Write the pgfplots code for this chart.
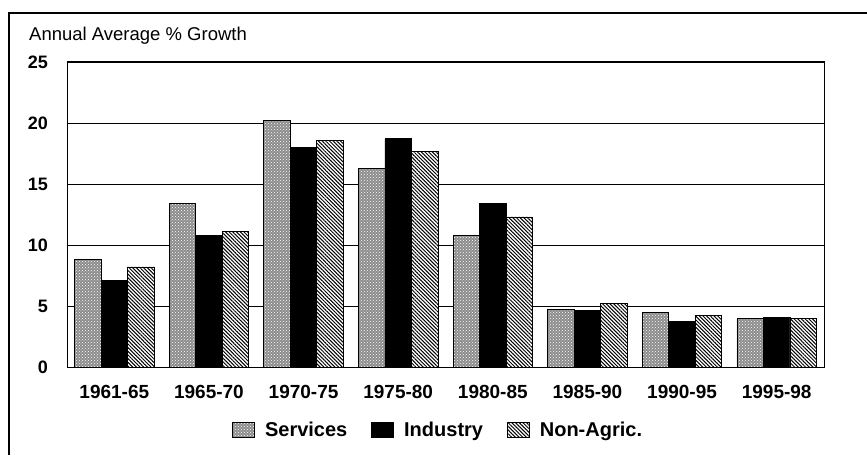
\documentclass[border=0pt]{standalone}
\usepackage{fontspec}
\setmainfont{Liberation Sans}
\usepackage{pgfplots}
\pgfplotsset{compat=1.18}
\usetikzlibrary{patterns,patterns.meta}
\newcommand{\legfont}{\bfseries\fontsize{20}{20}\selectfont}

\begin{document}
\begin{tikzpicture}[x=1pt,y=1pt]
\path[use as bounding box] (0,0) rectangle (867,455);
\draw[line width=1.3pt] (9,0) -- (9,442) -- (867,442);
\node[anchor=base west, font=\fontsize{18.5}{18.5}\selectfont, inner sep=0pt] at (29,414) {Annual Average \% Growth};
\begin{axis}[
  at={(67pt,88pt)}, anchor=south west,
  scale only axis, width=757pt, height=305pt,
  ybar=0pt, bar width=26.5pt,
  xmin=-0.5, xmax=7.5, ymin=0, ymax=25,
  ytick={0,5,...,25},
  xtick={0,...,7},
  xticklabels={1961-65,1965-70,1970-75,1975-80,1980-85,1985-90,1990-95,1995-98},
  major tick length=0pt,
  ymajorgrids,
  grid style={black, line width=0.8pt},
  axis line style={line width=1pt},
  /pgf/number format/assume math mode=true,
  xticklabel style={font=\bfseries\fontsize{19}{19}\selectfont, inner sep=0pt, anchor=north, yshift=-18pt},
  yticklabel style={font=\bfseries\fontsize{18}{18}\selectfont, inner sep=0pt, anchor=east, xshift=-19pt},
  legend columns=3,
  legend style={at={(0.489,-0.207)}, anchor=center, draw=none, fill=none,
    /tikz/every odd column/.append style={column sep=10pt},
    /tikz/every even column/.append style={column sep=24pt},
    nodes={inner sep=0pt}},
  legend image code/.code={\draw[#1] (0pt,-7.5pt) rectangle (22pt,7.5pt);},
  every axis plot/.append style={draw=black, line width=0.8pt},
]
\addplot[fill=black!45, postaction={pattern=crosshatch dots, pattern color=white}]
  coordinates {(0,8.8) (1,13.4) (2,20.2) (3,16.3) (4,10.8) (5,4.75) (6,4.45) (7,3.95)};
\addplot[fill=black]
  coordinates {(0,7.1) (1,10.8) (2,18.0) (3,18.7) (4,13.4) (5,4.65) (6,3.75) (7,4.05)};
\addplot[fill=white, postaction={pattern={Lines[angle=-45, distance=2.6pt, line width=1pt]}, pattern color=black}]
  coordinates {(0,8.2) (1,11.1) (2,18.6) (3,17.7) (4,12.3) (5,5.2) (6,4.2) (7,4.0)};
\legend{{\legfont Services}, {\legfont Industry}, {\legfont Non-Agric.}}
\end{axis}
\end{tikzpicture}
\end{document}
